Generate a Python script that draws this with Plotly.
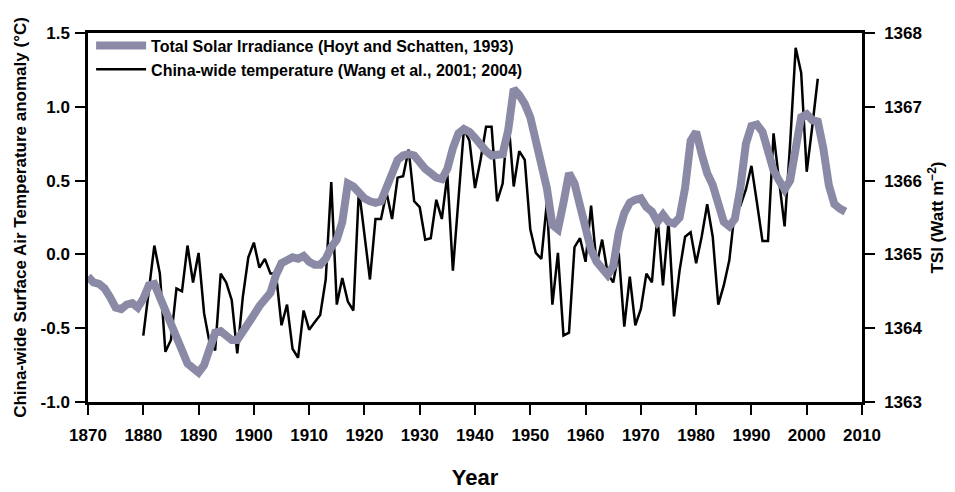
import plotly.graph_objects as go

# ---- data ----
tsi_years = list(range(1870, 2008))
tsi_values = [
    1364.70, 1364.62, 1364.60, 1364.54, 1364.42, 1364.28, 1364.26, 1364.32, 1364.34, 1364.28,  # 1870s
    1364.40, 1364.58, 1364.60, 1364.42, 1364.20, 1364.04, 1363.84, 1363.64, 1363.52, 1363.46,  # 1880s
    1363.40, 1363.50, 1363.76, 1363.94, 1363.96, 1363.90, 1363.84, 1363.84, 1363.94, 1364.06,  # 1890s
    1364.18, 1364.30, 1364.38, 1364.48, 1364.72, 1364.88, 1364.92, 1364.96, 1364.94, 1364.98,  # 1900s
    1364.90, 1364.86, 1364.86, 1364.94, 1365.10, 1365.20, 1365.44, 1365.96, 1365.92, 1365.82,  # 1910s
    1365.76, 1365.72, 1365.70, 1365.72, 1365.90, 1366.10, 1366.28, 1366.34, 1366.36, 1366.34,  # 1920s
    1366.24, 1366.16, 1366.10, 1366.04, 1366.02, 1366.16, 1366.44, 1366.64, 1366.70, 1366.66,  # 1930s
    1366.58, 1366.48, 1366.40, 1366.34, 1366.34, 1366.36, 1366.68, 1367.24, 1367.16, 1367.04,  # 1940s
    1366.86, 1366.52, 1366.30, 1365.90, 1365.40, 1365.34, 1365.70, 1366.10, 1365.96, 1365.68,  # 1950s
    1365.30, 1365.06, 1364.90, 1364.80, 1364.72, 1364.84, 1365.30, 1365.56, 1365.70, 1365.74,  # 1960s
    1365.76, 1365.64, 1365.58, 1365.44, 1365.54, 1365.44, 1365.42, 1365.50, 1365.90, 1366.54,  # 1970s
    1366.66, 1366.36, 1366.10, 1365.94, 1365.68, 1365.44, 1365.38, 1365.48, 1365.90, 1366.50,  # 1980s
    1366.74, 1366.76, 1366.66, 1366.36, 1366.14, 1366.00, 1365.88, 1366.00, 1366.40, 1366.86,  # 1990s
    1366.90, 1366.82, 1366.80, 1366.44, 1365.94, 1365.68, 1365.62, 1365.58,                    # 2000s
]

temp_years = list(range(1880, 2003))
temp_values = [
    -0.55, -0.24, 0.06, -0.13, -0.66, -0.58, -0.23, -0.25, 0.06, -0.19,   # 1880s
    0.01, -0.40, -0.60, -0.65, -0.13, -0.19, -0.31, -0.67, -0.29, -0.02,  # 1890s
    0.08, -0.09, -0.03, -0.13, -0.13, -0.48, -0.34, -0.64, -0.70, -0.38,  # 1900s
    -0.51, -0.46, -0.41, -0.17, 0.49, -0.34, -0.16, -0.32, -0.38, 0.44,   # 1910s
    0.14, -0.17, 0.24, 0.24, 0.42, 0.24, 0.52, 0.53, 0.71, 0.36,          # 1920s
    0.32, 0.10, 0.11, 0.37, 0.24, 0.54, -0.11, 0.37, 0.85, 0.77,          # 1930s
    0.45, 0.64, 0.865, 0.865, 0.36, 0.48, 0.93, 0.46, 0.70, 0.64,         # 1940s
    0.17, 0.01, -0.03, 0.35, -0.34, 0.01, -0.55, -0.53, 0.05, 0.11,       # 1950s
    -0.05, 0.33, -0.07, 0.10, -0.13, -0.19, 0.01, -0.49, -0.15, -0.48,    # 1960s
    -0.37, -0.13, -0.19, 0.26, -0.21, 0.22, -0.42, -0.11, 0.12, 0.15,     # 1970s
    -0.06, 0.12, 0.34, 0.12, -0.34, -0.21, -0.04, 0.30, 0.33, 0.44,       # 1980s
    0.60, 0.35, 0.09, 0.09, 0.82, 0.50, 0.19, 0.75, 1.40, 1.23,           # 1990s
    0.56, 0.865, 1.19,                                                    # 2000s
]

x_ticks = [1870, 1880, 1890, 1900, 1910, 1920, 1930, 1940, 1950, 1960, 1970, 1980, 1990, 2000, 2010]
y_ticks = [-1.0, -0.5, 0.0, 0.5, 1.0, 1.5]
y_ticklabels = ["-1.0", "-0.5", "0.0", "0.5", "1.0", "1.5"]
y2_ticks = [1363, 1364, 1365, 1366, 1367, 1368]

FONT = "Liberation Sans, Arial, sans-serif"
GRAY = "#8a8aa6"

fig = go.Figure()
fig.add_trace(go.Scatter(
    x=tsi_years, y=tsi_values, mode="lines", yaxis="y2",
    name="Total Solar Irradiance (Hoyt and Schatten, 1993)",
    line=dict(color=GRAY, width=8),
))
fig.add_trace(go.Scatter(
    x=temp_years, y=temp_values, mode="lines", yaxis="y",
    name="China-wide temperature (Wang et al., 2001; 2004)",
    line=dict(color="black", width=2.5),
))

tickfont = dict(family=FONT, size=17, color="black", weight="bold")
axis_common = dict(
    showline=True, linecolor="black", linewidth=2.5,
    ticks="outside", ticklen=10, tickwidth=2, tickcolor="black",
    showgrid=False, zeroline=False, tickfont=tickfont, automargin=False,
)

fig.update_layout(
    width=955, height=492,
    margin=dict(l=80, r=101, t=25, b=98),
    paper_bgcolor="white", plot_bgcolor="white",
    font=dict(family=FONT, color="black"),
    showlegend=True,
    legend=dict(
        x=0.004, y=1.012, xanchor="left", yanchor="top",
        bgcolor="rgba(0,0,0,0)", borderwidth=0,
        font=dict(family=FONT, size=16, color="black", weight="bold"),
        tracegroupgap=0, itemwidth=50,
    ),
    xaxis=dict(
        range=[1870, 2010], tickvals=x_ticks, mirror=True, ticklabelstandoff=6,
        title=dict(text="Year", font=dict(family=FONT, size=22, color="black", weight="bold"), standoff=26),
        **axis_common,
    ),
    yaxis=dict(
        range=[-1.0, 1.5], tickvals=y_ticks, ticktext=y_ticklabels, ticklabelstandoff=2,
        title=dict(text="China-wide Surface Air Temperature anomaly (°C)",
                   font=dict(family=FONT, size=17, color="black", weight="bold"), standoff=10),
        **axis_common,
    ),
    yaxis2=dict(
        range=[1363, 1368], tickvals=y2_ticks, overlaying="y", side="right", ticklabelstandoff=6,
        title=dict(text="TSI (Watt m<sup>−2</sup>)",
                   font=dict(family=FONT, size=17, color="black", weight="bold"), standoff=10),
        **axis_common,
    ),
)

fig.write_html("out.html")
